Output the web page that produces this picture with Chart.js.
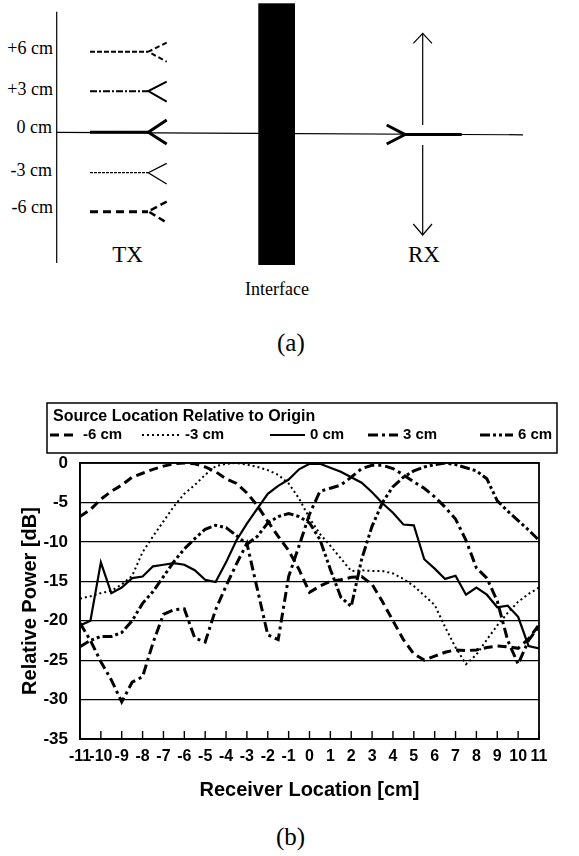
<!DOCTYPE html>
<html>
<head>
<meta charset="utf-8">
<script src="https://cdn.jsdelivr.net/npm/chart.js@4.4.1/dist/chart.umd.min.js"></script>
<style>
  html, body { margin: 0; padding: 0; background: #fff; }
  #page { position: relative; width: 579px; height: 856px; overflow: hidden; background: #fff; }
  #diagram { position: absolute; left: 0; top: 0; }
  #chartBox { position: absolute; left: 0; top: 390px; width: 579px; height: 420px; }
  .cap { position: absolute; font-family: "Liberation Serif", "Times New Roman", serif; font-size: 25px; color: #000; }
</style>
</head>
<body>
<div id="page">
  <svg id="diagram" width="579" height="320" xmlns="http://www.w3.org/2000/svg" font-family="Liberation Serif, Times New Roman, serif" fill="none" stroke="#000">
    <!-- origin axis and main path -->
    <line x1="56.7" y1="11.7" x2="56.7" y2="263" stroke-width="1.2"/>
    <line x1="56.7" y1="132.3" x2="523" y2="134.8" stroke-width="1.2"/>

    <!-- TX sources -->
    <line x1="90" y1="51.7" x2="148" y2="51.7" stroke-width="2" stroke-dasharray="5 2"/>
    <polyline points="166.7,42.7 148.3,51.7 166.7,61.7" stroke-width="2" stroke-dasharray="5 3"/>

    <line x1="90" y1="91.2" x2="148" y2="91.2" stroke-width="2" stroke-dasharray="7 2 2 2"/>
    <polyline points="166.7,81.7 148.3,91 166.7,101.7" stroke-width="2"/>

    <line x1="90" y1="132.3" x2="148" y2="132.3" stroke-width="3"/>
    <polyline points="166.7,120 148.3,132.3 166.7,144" stroke-width="3"/>

    <line x1="90" y1="172.7" x2="148" y2="172.7" stroke-width="1.3" stroke-dasharray="3 1"/>
    <polyline points="166.7,163.3 148.3,172.7 166.7,184" stroke-width="1.3"/>

    <line x1="90" y1="211.7" x2="148" y2="211.7" stroke-width="3" stroke-dasharray="8 5"/>
    <polyline points="166.7,201.7 148.3,211.3 166.7,222.7" stroke-width="2.5" stroke-dasharray="7 4"/>

    <!-- interface -->
    <rect x="258.3" y="3.3" width="36.7" height="261.7" fill="#000" stroke="none"/>

    <!-- RX -->
    <polyline points="386.7,125 405,134.6 386.7,144" stroke-width="3"/>
    <line x1="405" y1="134.6" x2="461.7" y2="134.6" stroke-width="3"/>
    <line x1="422.7" y1="33.3" x2="422.7" y2="125" stroke-width="1.2"/>
    <line x1="422.7" y1="145" x2="422.7" y2="235" stroke-width="1.2"/>
    <polyline points="413.3,43.3 422.7,33.3 432,43.3" stroke-width="1.2"/>
    <polyline points="413.3,224 422.7,235 432,224" stroke-width="1.2"/>

    <g fill="#000" stroke="none" font-size="18" text-anchor="end">
      <text x="53" y="53.5">+6 cm</text>
      <text x="53" y="94.5">+3 cm</text>
      <text x="52" y="133">0 cm</text>
      <text x="52" y="175.5">-3 cm</text>
      <text x="53" y="213">-6 cm</text>
    </g>
    <g fill="#000" stroke="none" text-anchor="middle">
      <text x="127.5" y="262" font-size="23">TX</text>
      <text x="424" y="262" font-size="23">RX</text>
      <text x="277" y="294.5" font-size="18">Interface</text>
    </g>
  </svg>
  <div class="cap" style="left:277px; top:329px;">(a)</div>

  <div id="chartBox"><canvas id="powerChart"></canvas></div>
  <div class="cap" style="left:276px; top:823px;">(b)</div>
</div>

<script>
var xValues = [-11, -10.5, -10, -9.5, -9, -8.5, -8, -7.5, -7, -6.5, -6, -5.5, -5, -4.5, -4, -3.5, -3, -2.5, -2, -1.5, -1, -0.5,
  0, 0.5, 1, 1.5, 2, 2.5, 3, 3.5, 4, 4.5, 5, 5.5, 6, 6.5, 7, 7.5, 8, 8.5, 9, 9.5, 10, 10.5, 11];

var seriesLabels = ["-6 cm", "-3 cm", "0 cm", "3 cm", "6 cm"];

var srcMinus6 = [-6.8, -5.9, -4.6, -3.6, -2.8, -1.8, -1.3, -0.8, -0.4, -0.1, 0, -0.1, -0.5, -1.1, -2.0, -2.6, -3.8, -5.4, -7.4, -9.3, -11.1, -13.5,
  -16.4, -15.6, -15.0, -14.8, -14.5, -14.4, -15.4, -17.6, -20.0, -22.4, -24.2, -25.0, -24.5, -24.0, -23.7, -23.8, -23.7, -23.4, -23.2, -23.3, -23.5, -22.3, -20.5];

var srcMinus3 = [-17.2, -16.9, -16.5, -16.2, -15.4, -14.3, -11.3, -9.3, -7.4, -5.5, -3.9, -2.8, -1.5, -0.4, -0.1, 0, -0.2, -0.5, -0.9, -1.5, -2.6, -4.5,
  -7.0, -9.0, -10.5, -12.1, -13.7, -13.6, -13.7, -13.7, -14.0, -14.7, -15.6, -16.8, -18.0, -20.8, -23.4, -25.5, -24.3, -22.4, -20.6, -19.0, -17.6, -16.6, -15.8];

var srcZero = [-20.6, -20.0, -12.6, -16.5, -15.8, -14.6, -14.4, -13.1, -12.9, -12.7, -12.9, -13.6, -14.8, -15.1, -12.6, -9.8, -7.7, -5.8, -3.9, -2.9, -2.1, -0.8,
  -0.1, -0.1, -0.6, -1.1, -1.8, -2.5, -3.7, -5.1, -6.3, -7.8, -7.9, -12.2, -13.4, -14.7, -14.3, -16.7, -15.8, -16.7, -18.3, -18.1, -19.5, -23.2, -23.5];

var srcPlus3 = [-20.3, -22.5, -25.2, -27.5, -30.3, -27.8, -27.1, -22.8, -19.2, -18.6, -18.5, -22.2, -22.7, -18.6, -15.6, -12.8, -10.2, -16.0, -21.8, -22.4, -14.4, -10.5,
  -6.5, -3.6, -3.2, -2.8, -1.8, -0.7, -0.3, -0.3, -0.7, -1.5, -2.4, -3.2, -4.3, -5.6, -7.1, -9.8, -13.3, -14.6, -17.5, -22.5, -25.5, -22.5, -20.7];

var srcPlus6 = [-23.3, -22.5, -22.0, -22.0, -21.5, -20.0, -17.8, -16.3, -14.4, -12.5, -10.9, -9.6, -8.4, -7.9, -8.2, -9.2, -10.3, -9.3, -7.6, -6.8, -6.4, -6.8,
  -7.6, -9.7, -13.5, -17.0, -18.2, -12.2, -8.0, -5.0, -3.0, -1.8, -1.0, -0.5, -0.2, 0, -0.2, -0.6, -1.0, -2.0, -4.8, -6.1, -7.3, -8.5, -9.8];

var lineDashes = [[9, 5], [2, 3], [], [10, 4, 3, 4], [10, 3, 3, 3, 3, 3]];
var lineWidths = [3, 2, 2.2, 3, 3];

function toPoints(ys) {
  return xValues.map(function (x, i) { return { x: x, y: ys[i] }; });
}

var allSeries = [srcMinus6, srcMinus3, srcZero, srcPlus3, srcPlus6];
var datasets = allSeries.map(function (ys, i) {
  return {
    label: seriesLabels[i],
    data: toPoints(ys),
    borderColor: "#000",
    borderWidth: lineWidths[i],
    borderDash: lineDashes[i],
    borderCapStyle: "butt",
    pointRadius: 0,
    tension: 0,
    fill: false
  };
});

var sansBold = "'Liberation Sans', Arial, Helvetica, sans-serif";

// legend drawn as a boxed row like the original figure
var sourceLegend = {
  id: "sourceLegend",
  afterDraw: function (chart, args, opts) {
    var ctx = chart.ctx;
    ctx.save();
    ctx.strokeStyle = "#000";
    ctx.lineWidth = 1.5;
    ctx.strokeRect(opts.left, opts.top, opts.width, opts.height);
    ctx.fillStyle = "#000";
    ctx.textBaseline = "middle";
    ctx.textAlign = "left";
    ctx.font = "bold 16px " + sansBold;
    ctx.fillText(opts.title, opts.left + 6, opts.top + 14);
    ctx.font = "bold 15px " + sansBold;
    chart.data.datasets.forEach(function (ds, i) {
      var x0 = opts.items[i][0], w = opts.items[i][1], y = opts.top + 32;
      ctx.lineWidth = ds.borderWidth;
      ctx.setLineDash(ds.borderDash);
      ctx.beginPath();
      ctx.moveTo(x0, y);
      ctx.lineTo(x0 + w, y);
      ctx.stroke();
      ctx.setLineDash([]);
      ctx.fillText(ds.label, x0 + w + 5, y);
    });
    ctx.restore();
  }
};

// inward tick marks on the bottom axis plus the plot frame
var frameTicks = {
  id: "frameTicks",
  afterDatasetsDraw: function (chart) {
    var ctx = chart.ctx, a = chart.chartArea, xs = chart.scales.x;
    ctx.save();
    ctx.strokeStyle = "#000";
    ctx.lineWidth = 1.4;
    ctx.beginPath();
    xs.ticks.forEach(function (t) {
      var px = xs.getPixelForValue(t.value);
      ctx.moveTo(px, a.bottom);
      ctx.lineTo(px, a.bottom - 8);
    });
    ctx.stroke();
    ctx.lineWidth = 1.8;
    ctx.strokeRect(a.left, a.top, a.right - a.left, a.bottom - a.top);
    ctx.restore();
  }
};

new Chart("powerChart", {
  type: "line",
  data: { datasets: datasets },
  plugins: [sourceLegend, frameTicks],
  options: {
    responsive: true,
    maintainAspectRatio: false,
    animation: false,
    layout: { padding: { left: 0, right: 40, top: 73, bottom: 0 } },
    plugins: {
      legend: { display: false },
      tooltip: { enabled: false },
      sourceLegend: {
        title: "Source Location Relative to Origin",
        left: 47, top: 13, width: 510, height: 50,
        items: [[50, 28], [142, 38], [270, 35], [368, 30], [480, 33]]
      }
    },
    scales: {
      x: {
        type: "linear",
        min: -11,
        max: 11,
        afterFit: function (s) { s.height = 71; },
        grid: { display: false, drawTicks: false },
        border: { display: true, color: "#000", width: 1.6 },
        ticks: {
          stepSize: 1,
          autoSkip: false,
          maxRotation: 0,
          padding: 8,
          color: "#000",
          font: { family: sansBold, weight: "bold", size: 16 }
        },
        title: {
          display: true,
          text: "Receiver Location [cm]",
          color: "#000",
          font: { family: sansBold, weight: "bold", size: 20 },
          padding: { top: 0, bottom: 8 }
        }
      },
      y: {
        min: -35,
        max: 0,
        afterFit: function (s) { s.width = 80; },
        grid: { color: "#000", lineWidth: 1.2, drawTicks: false },
        border: { display: true, color: "#000", width: 1.6 },
        ticks: {
          stepSize: 5,
          padding: 12,
          color: "#000",
          font: { family: sansBold, weight: "bold", size: 17 }
        },
        title: {
          display: true,
          text: "Relative Power [dB]",
          color: "#000",
          font: { family: sansBold, weight: "bold", size: 20 },
          padding: { top: 18, bottom: 0 }
        }
      }
    }
  }
});
</script>
</body>
</html>
